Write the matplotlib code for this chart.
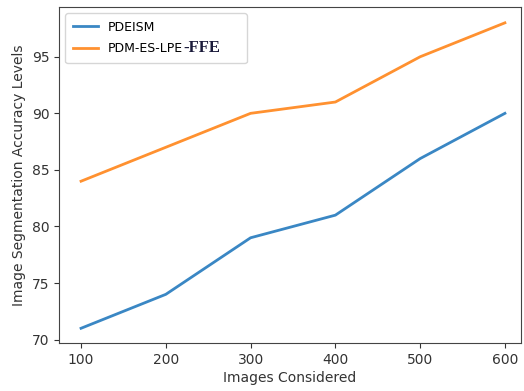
import matplotlib
matplotlib.use("Agg")
import matplotlib.pyplot as plt
from matplotlib.offsetbox import HPacker, TextArea, DrawingArea

images = [100, 200, 300, 400, 500, 600]
pdeism = [71, 74, 79, 81, 86, 90]
pdm_es_lpe_ffe = [84, 87, 90, 91, 95, 98]

W, H, DPI = 5.24, 3.91, 100
fig = plt.figure(figsize=(W, H), dpi=DPI)
ax = fig.add_axes([0.1126, 0.1228, 0.8817, 0.8593])
ax.plot(images, pdeism, color='#3a87c4', lw=2, label='PDEISM')
ax.plot(images, pdm_es_lpe_ffe, color='#ff9130', lw=2, label='PDM-ES-LPE')
ax.set_xlim(74, 619)
ax.set_ylim(69.7, 99.4)
ax.set_xlabel('Images Considered', fontsize=10, labelpad=3, color='#333333')
ax.set_ylabel('Image Segmentation Accuracy Levels', fontsize=10, color='#333333')
ax.set_xticks(images)
ax.tick_params(labelsize=10, colors='#333333')
for s in ax.spines.values():
    s.set_color('#444444')
leg = ax.legend(loc='upper left', fontsize=9, borderpad=0.6)

# append a serif "-FFE" suffix to the second legend label
col = leg._legend_handle_box.get_children()[0]
entry = col.get_children()[1]
txt_area = entry._children[1]
suffix = TextArea('-FFE', textprops=dict(family='Liberation Serif', fontsize=12,
                                         fontweight='bold', color='#1a1a3a'))
pad = DrawingArea(14, 1)
suffix.set_figure(fig)
pad.set_figure(fig)
newbox = HPacker(children=[txt_area, suffix, pad], sep=0, pad=0, align='baseline')
newbox.figure = fig
entry._children[1] = newbox
fig.savefig('out.png', dpi=DPI)
